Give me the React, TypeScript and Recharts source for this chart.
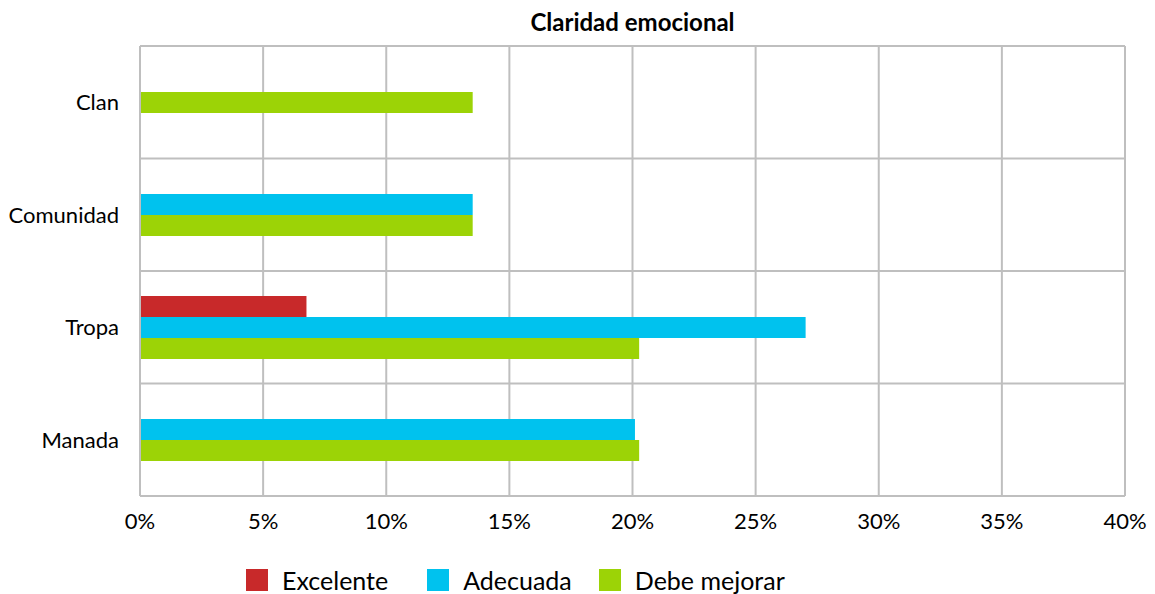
import React from "react";
import { BarChart, Bar, XAxis, YAxis, CartesianGrid } from "recharts";

const categories = ["Clan", "Comunidad", "Tropa", "Manada"];
const excelente: (number | null)[] = [null, null, 6.76, null];
const adecuada: (number | null)[] = [null, 13.51, 27.03, 20.1];
const debeMejorar: (number | null)[] = [13.51, 13.51, 20.27, 20.27];
const xTicks = [0, 5, 10, 15, 20, 25, 30, 35, 40];

const seriesKeys = ["Excelente", "Adecuada", "Debe mejorar"];
const seriesColors = ["#c8292a", "#00c2ee", "#9cd306"];

const data = categories.map((c, i) => ({
  name: c,
  Excelente: excelente[i],
  Adecuada: adecuada[i],
  "Debe mejorar": debeMejorar[i],
}));

const FONT = "Lato, 'Noto Sans', sans-serif";

const makeShape = (key: string, idx: number) => (props: any) => {
  const { x, y, width, height, payload, fill } = props;
  if (payload == null || payload[key] == null || !(width > 0)) return <g />;
  const present = seriesKeys.filter((k) => payload[k] != null && payload[k] > 0);
  const n = present.length;
  const k = present.indexOf(key);
  const h = height;
  const newY = y - idx * h + (3 * h) / 2 - (n * h) / 2 + k * h;
  return <rect x={x} y={newY} width={width} height={h} fill={fill} />;
};

export default function App() {
  return (
    <div style={{ position: "absolute", left: 0, top: 0, width: 1155, height: 594, background: "#fff" }}>
      <div
        style={{
          position: "absolute",
          left: 140,
          width: 985,
          top: 7,
          textAlign: "center",
          fontFamily: FONT,
          fontWeight: 700,
          fontSize: 24,
          lineHeight: "30px",
          color: "#000",
        }}
      >
        Claridad emocional
      </div>
      <BarChart
        width={1155}
        height={594}
        data={data}
        layout="vertical"
        margin={{ top: 46, right: 30, bottom: 58, left: 0 }}
        barSize={21}
        barGap={0}
      >
        <CartesianGrid
          stroke="#bfbfbf"
          strokeWidth={2}
          horizontalCoordinatesGenerator={({ offset }: any) =>
            [0, 1, 2, 3, 4].map((i) => offset.top + (i * offset.height) / 4)
          }
        />
        <XAxis
          type="number"
          domain={[0, 40]}
          ticks={xTicks}
          tickFormatter={(v: number) => `${v}%`}
          axisLine={false}
          tickLine={false}
          tick={{ fill: "#000", fontSize: 22, fontFamily: FONT }}
          tickMargin={11}
          height={40}
        />
        <YAxis
          type="category"
          dataKey="name"
          width={140}
          axisLine={{ stroke: "#bfbfbf", strokeWidth: 2 }}
          tickLine={false}
          tick={{ fill: "#000", fontSize: 22, fontFamily: FONT }}
          tickMargin={15}
        />
        {seriesKeys.map((k, i) => (
          <Bar
            key={k}
            dataKey={k}
            fill={seriesColors[i]}
            isAnimationActive={false}
            shape={makeShape(k, i)}
          />
        ))}
      </BarChart>
      <div
        style={{
          position: "absolute",
          left: 246,
          top: 564,
          display: "flex",
          alignItems: "center",
          fontFamily: FONT,
          fontSize: 25,
          lineHeight: "32px",
          color: "#000",
        }}
      >
        {seriesKeys.map((k, i) => (
          <div key={k} style={{ display: "flex", alignItems: "center", marginRight: i === 0 ? 39 : 27 }}>
            <div style={{ width: 22, height: 22, background: seriesColors[i], marginRight: 14 }} />
            <span>{k}</span>
          </div>
        ))}
      </div>
    </div>
  );
}
